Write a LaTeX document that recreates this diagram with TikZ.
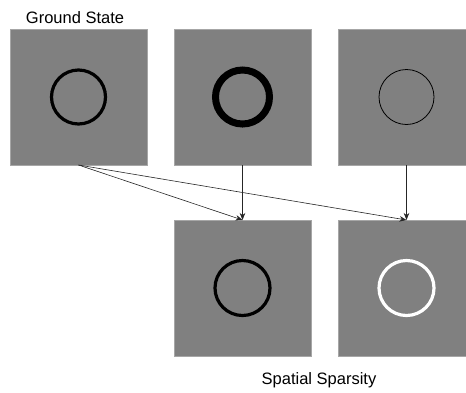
\documentclass[tikz,border=0pt]{standalone}
\usepackage{fontspec}
\setmainfont{Liberation Sans}
\usetikzlibrary{arrows.meta}
\begin{document}
\begin{tikzpicture}[x=1bp,y=-1bp,
  panel/.style={draw=black!35, line width=0.6bp, fill=black!50, minimum width=137bp, minimum height=136bp, inner sep=0pt, outer sep=0pt},
  ring/.style={circle, draw, inner sep=0pt, outer sep=0pt, fill=none},
  link/.style={draw=black!85, line width=0.6bp, -{Stealth[length=7bp,width=5.5bp]}},
  caption/.style={font=\fontsize{16.5bp}{19bp}\selectfont, inner sep=0pt}]
  \useasboundingbox (0,0) rectangle (466,392);
  \clip (0,0) rectangle (466,392);

  % top row of panels
  \node[panel] (g)  at (78.5,97) {};
  \node[panel] (t2) at (242.5,97) {};
  \node[panel] (t3) at (406.5,97) {};
  % bottom row of panels
  \node[panel] (b1) at (242.5,288) {};
  \node[panel] (b2) at (406.5,288) {};

  % rings inside the panels
  \node[ring, line width=3.2bp, minimum size=54bp] (rg) at (g.center) {};
  \node[ring, line width=7bp, minimum size=54bp] (r2) at (t2.center) {};
  \node[ring, line width=0.8bp, minimum size=55bp] (r3) at (t3.center) {};
  \node[ring, line width=3.2bp, minimum size=55bp] (rb1) at (b1.center) {};
  \node[ring, draw=white, line width=3.2bp, minimum size=55bp] (rb2) at (b2.center) {};

  % connectors
  \draw[link] (g.south) -- (b1.north);
  \draw[link] (g.south) -- (b2.north);
  \draw[link] (t2.south) -- (b1.north);
  \draw[link] (t3.south) -- (b2.north);

  % captions
  \node[caption] (lg) at (75,18) {Ground State};
  \node[caption] (ls) at (319,380) {Spatial Sparsity};
\end{tikzpicture}
\end{document}
